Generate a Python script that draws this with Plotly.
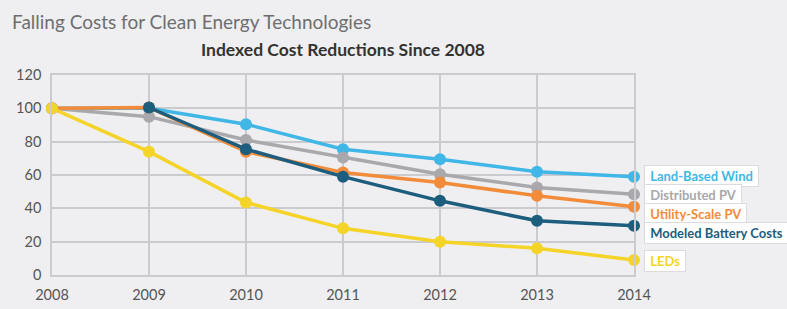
import plotly.graph_objects as go

years = [2008, 2009, 2010, 2011, 2012, 2013, 2014]
wind = [100, 100, 90.5, 75.5, 69.5, 62, 59]
dist_pv = [100, 95, 81, 70.5, 60.5, 52.5, 48.5]
utility_pv = [100, 100.5, 74, 61.5, 55.5, 47.5, 41]
battery = [None, 100.5, 75.5, 59, 44.5, 32.5, 29.5]
leds = [100, 74, 43.5, 28, 20, 16, 9]

series_names = ["Land-Based Wind", "Distributed PV", "Utility-Scale PV", "Modeled Battery Costs", "LEDs"]
series_values = [wind, dist_pv, utility_pv, battery, leds]
colors = ["#40b7e6", "#a8a8ad", "#f28c3a", "#1d5d7e", "#f4d428"]
label_y = [59.4, 47.8, 36.6, 25.4, 8.2]
y_ticks = [0, 20, 40, 60, 80, 100, 120]

W, H = 787, 309
L, R, T, B = 52, 153, 75, 34

fig = go.Figure()
for name, vals, c in zip(series_names, series_values, colors):
    fig.add_trace(go.Scatter(
        x=years, y=vals, mode="lines+markers", name=name,
        line=dict(color=c, width=3.5),
        marker=dict(color=c, size=12),
        cliponaxis=False, showlegend=False,
    ))

for name, ly, c in zip(series_names, label_y, colors):
    fig.add_annotation(
        x=2014, y=ly, xref="x", yref="y", text="<b>\u00a0" + name + "\u00a0</b>",
        showarrow=False, xanchor="left", yanchor="middle", xshift=10,
        font=dict(family="Lato", size=13, color=c),
        bgcolor="white", bordercolor="#dcdce0", borderwidth=1, borderpad=2,
    )

fig.add_annotation(
    x=(10 - L) / (W - L - R), y=1 + (T - 22) / (H - T - B), xref="paper", yref="paper",
    text="Falling Costs for Clean Energy Technologies",
    showarrow=False, xanchor="left", yanchor="middle",
    font=dict(family="Lato", size=19, color="#6e6e70"),
)
fig.update_layout(
    width=W, height=H,
    margin=dict(l=L, r=R, t=T, b=B, autoexpand=False),
    paper_bgcolor="#efeff1", plot_bgcolor="#efeff1",
    title=dict(text="<b>Indexed Cost Reductions Since 2008</b>", x=343 / W, xanchor="center",
               y=1 - 50 / H, yanchor="middle",
               font=dict(family="Lato", size=17.5, color="#333")),
    xaxis=dict(range=[2008, 2014], tickvals=years, ticktext=[str(y) for y in years],
               showgrid=True, gridcolor="#cbcbcf", gridwidth=1.5,
               showline=True, linecolor="#cbcbcf", linewidth=1.5, mirror=True,
               zeroline=False, ticks="", ticklabelstandoff=6, automargin=False,
               tickfont=dict(family="Lato", size=14.5, color="#555")),
    yaxis=dict(range=[0, 120], tickvals=y_ticks,
               showgrid=True, gridcolor="#cbcbcf", gridwidth=1.5,
               showline=True, linecolor="#cbcbcf", linewidth=1.5, mirror=True,
               zeroline=False, ticks="", ticklabelstandoff=6, automargin=False,
               tickfont=dict(family="Lato", size=14.5, color="#555")),
)
fig.write_html(
    "out.html",
    config={"displayModeBar": False},
    post_script="document.body.style.margin='0';document.body.style.background='#efeff1';",
)
